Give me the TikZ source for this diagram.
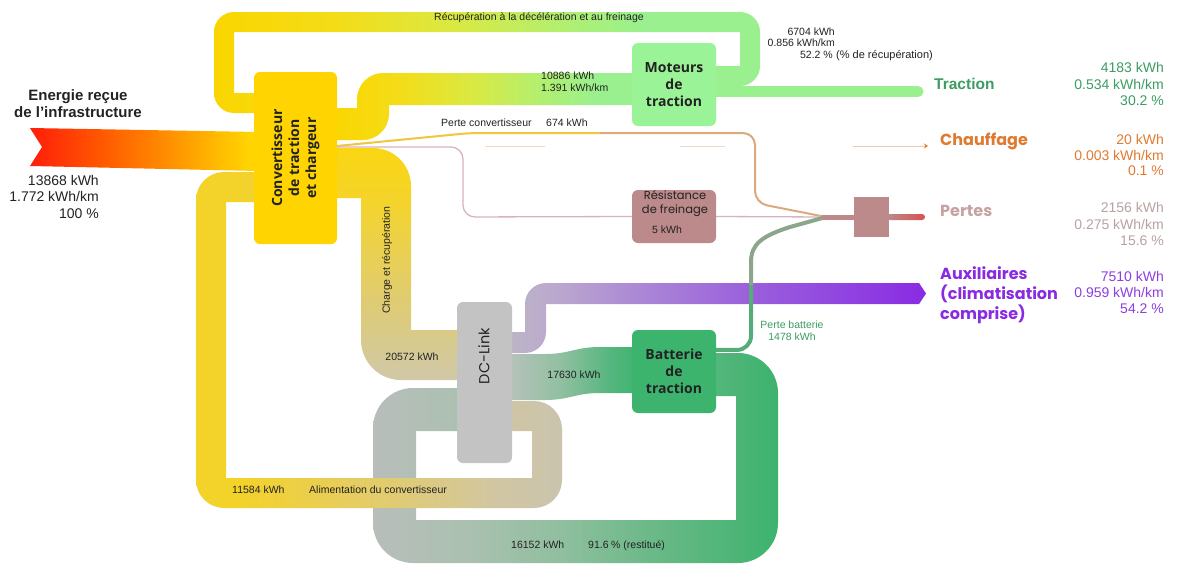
\documentclass[tikz,border=0pt]{standalone}
\usepackage{fontspec}
\setmainfont{Liberation Sans}
\newfontfamily\osans{Open Sans}
\newfontfamily\pop{Poppins}
\usetikzlibrary{arrows.meta}

% plain colours
\definecolor{convgold}{HTML}{FFD400}
\definecolor{motgreen}{HTML}{9AF396}
\definecolor{outgreen}{HTML}{9AF08E}
\definecolor{batgreen}{HTML}{3DB46E}
\definecolor{rose}{HTML}{BC8A8A}
\definecolor{dcgray}{HTML}{C3C3C3}
\definecolor{auxpurple}{HTML}{8A2BE2}
\definecolor{auxval}{HTML}{8E3EE0}
\definecolor{tracgreen}{HTML}{3C9C63}
\definecolor{chaufor}{HTML}{E07A30}
\definecolor{pertlbl}{HTML}{C7A2A2}
\definecolor{pertval}{HTML}{B9A2A2}
\definecolor{lossred}{HTML}{D65252}
\definecolor{txt}{HTML}{222222}
\definecolor{resline}{HTML}{D8B2C2}
\definecolor{convlossA}{HTML}{F0C63C}
\definecolor{convlossB}{HTML}{DCA97C}
\definecolor{batlossA}{HTML}{55AC78}
\definecolor{batlossB}{HTML}{8CA68C}
\definecolor{heatline}{HTML}{F3D8C6}

% gradient stops of the flows
\definecolor{in1}{HTML}{FF1E0A}
\definecolor{in2}{HTML}{FF5600}
\definecolor{in3}{HTML}{FF9200}
\definecolor{in4}{HTML}{FFBE00}
\definecolor{in5}{HTML}{FFD400}
\pgfdeclarehorizontalshading{inflow}{100bp}{color(0bp)=(in1); color(25bp)=(in1); color(40bp)=(in2); color(56bp)=(in3); color(67bp)=(in4); color(73bp)=(in5); color(100bp)=(in5)}

\definecolor{rc1}{HTML}{FAD600}
\definecolor{rc2}{HTML}{F4DC18}
\definecolor{rc3}{HTML}{DAE942}
\definecolor{rc4}{HTML}{B2EF70}
\definecolor{rc5}{HTML}{9AF08E}
\pgfdeclarehorizontalshading{recov}{100bp}{color(0bp)=(rc1); color(25bp)=(rc1); color(36bp)=(rc2); color(47bp)=(rc3); color(57bp)=(rc4); color(64bp)=(rc5); color(100bp)=(rc5)}
\pgfdeclarehorizontalshading{tracin}{100bp}{color(0bp)=(rc1); color(25bp)=(rc1); color(36bp)=(rc2); color(48bp)=(rc3); color(59bp)=(rc4); color(68bp)=(rc5); color(100bp)=(rc5)}

\definecolor{ch1}{HTML}{D0C8A8}
\definecolor{ch2}{HTML}{DFCC72}
\definecolor{ch3}{HTML}{EAD050}
\definecolor{ch4}{HTML}{F4D42A}
\definecolor{ch5}{HTML}{FAD612}
\pgfdeclareverticalshading{charge}{100bp}{color(0bp)=(ch1); color(25bp)=(ch1); color(42bp)=(ch2); color(53bp)=(ch3); color(64bp)=(ch4); color(75bp)=(ch5); color(100bp)=(ch5)}

\definecolor{al1}{HTML}{F3D22A}
\definecolor{al2}{HTML}{E9CE54}
\definecolor{al3}{HTML}{DCCA80}
\definecolor{al4}{HTML}{D1C6A2}
\definecolor{al5}{HTML}{CAC4AE}
\pgfdeclarehorizontalshading{alim}{100bp}{color(0bp)=(al1); color(31bp)=(al1); color(43bp)=(al2); color(56bp)=(al3); color(66bp)=(al4); color(75bp)=(al5); color(100bp)=(al5)}

\definecolor{rs1}{HTML}{B8BEBA}
\definecolor{rs2}{HTML}{AAC0B0}
\definecolor{rs3}{HTML}{90BF9F}
\definecolor{rs4}{HTML}{6CB988}
\definecolor{rs5}{HTML}{3DB36E}
\pgfdeclarehorizontalshading{rest}{100bp}{color(0bp)=(rs1); color(25bp)=(rs1); color(37bp)=(rs2); color(48bp)=(rs3); color(59bp)=(rs4); color(75bp)=(rs5); color(100bp)=(rs5)}

\definecolor{bi1}{HTML}{BAC2BC}
\definecolor{bi2}{HTML}{92C0A2}
\definecolor{bi3}{HTML}{55B67E}
\pgfdeclarehorizontalshading{batin}{100bp}{color(0bp)=(bi1); color(25bp)=(bi1); color(45bp)=(bi2); color(64bp)=(bi3); color(75bp)=(rs5); color(100bp)=(rs5)}

\definecolor{ax1}{HTML}{BDB6C6}
\definecolor{ax2}{HTML}{BBA8CE}
\definecolor{ax3}{HTML}{AA84D6}
\definecolor{ax4}{HTML}{9A60DC}
\definecolor{ax5}{HTML}{9042E0}
\pgfdeclarehorizontalshading{auxflow}{100bp}{color(0bp)=(ax1); color(25bp)=(ax1); color(31bp)=(ax2); color(42bp)=(ax3); color(54bp)=(ax4); color(66bp)=(ax5); color(75bp)=(auxpurple); color(100bp)=(auxpurple)}

\begin{document}
\begin{tikzpicture}[x=1pt,y=-1pt,
  box/.style={rounded corners=6pt, inner sep=0pt, align=center,
    font=\osans\bfseries\fontsize{14}{17}\selectfont, text=txt},
  small/.style={inner sep=0pt, font=\fontsize{10.5}{12}\selectfont, text=txt},
  val/.style={inner sep=0pt, font=\fontsize{14}{16}\selectfont, anchor=mid east},
  outlbl/.style={inner sep=0pt, anchor=mid west,
    font=\pop\bfseries\fontsize{16}{20}\selectfont},
]
\useasboundingbox (0,0) rectangle (1177,565);
\fill[white] (0,0) rectangle (1177,565);

% ---------------- flows ----------------
% battery return loop (16152 kWh)
\shade[shading=rest] (712,353) -- (738,353) .. controls (760,353) and (778,371) .. (778,393)
  -- (778,523) .. controls (778,545) and (760,563) .. (738,563)
  -- (413,563) .. controls (391,563) and (373,545) .. (373,523)
  -- (373,428) .. controls (373,406) and (391,388) .. (413,388)
  -- (460,388) -- (460,431) -- (416,431) -- (416,520) -- (736,520) -- (736,396) -- (712,396) -- cycle;

% supply of the converter (11584 kWh)
\shade[shading=alim] (490,401) -- (534,401) .. controls (549.4,401) and (562,413.6) .. (562,429)
  -- (562,480) .. controls (562,495.4) and (549.4,508) .. (534,508)
  -- (224,508) .. controls (208.6,508) and (196,495.4) .. (196,480)
  -- (196,200) .. controls (196,184.6) and (208.6,172) .. (224,172)
  -- (258,172) -- (258,202) -- (226,202) -- (226,478) -- (532,478) -- (532,431) -- (490,431) -- cycle;

% charge and recovery (20572 kWh)
\shade[shading=charge] (330,148) -- (373,148) .. controls (393.9,148) and (411,165.1) .. (411,186)
  -- (411,330) -- (460,330) -- (460,380)
  -- (401,380) .. controls (379,380) and (361,362) .. (361,340)
  -- (361,198) -- (330,198) -- cycle;

% DC-link to battery (17630 kWh)
\shade[shading=batin] (505,354) -- (545,354) .. controls (570,354) and (575,347) .. (600,347)
  -- (640,347) -- (640,393) -- (600,393) .. controls (575,393) and (570,400) .. (545,400)
  -- (505,400) -- cycle;

% auxiliaries (7510 kWh)
\shade[shading=auxflow] (505,332) -- (525,332) -- (525,304) .. controls (525,292.4) and (534.4,283) .. (546,283)
  -- (919,283) -- (926,293.5) -- (919,304) -- (546,304)
  -- (546,332) .. controls (546,343.6) and (536.6,353) .. (525,353)
  -- (505,353) -- cycle;

% recovery loop (6704 kWh)
\shade[shading=recov] (712,86) -- (740,86) .. controls (751,86) and (760,77) .. (760,66)
  -- (760,32) .. controls (760,21) and (751,12) .. (740,12)
  -- (234,12) .. controls (223,12) and (214,21) .. (214,32)
  -- (214,93) .. controls (214,104) and (223,113) .. (234,113)
  -- (258,113) -- (258,93) -- (234,93) -- (234,32) -- (740,32) -- (740,66) -- (712,66) -- cycle;

% converter to motors (10886 kWh)
\shade[shading=tracin] (330,108) -- (357,108) -- (357,99) .. controls (357,84.7) and (368.7,73) .. (383,73)
  -- (640,73) -- (640,105) -- (389,105)
  -- (389,114) .. controls (389,128.3) and (377.3,140) .. (363,140)
  -- (330,140) -- cycle;

% traction output
\coordinate (trEnd) at (918,91.5);
\draw[line width=11pt, outgreen, line cap=round] (712,91.5) -- (trEnd);

% energy from the infrastructure
\shade[shading=inflow] (30,128) -- (258,132) -- (258,171) -- (30,166) -- (42,147) -- cycle;

% ---------------- blocks ----------------
\node[box, fill=convgold, minimum width=172pt, minimum height=83pt, rotate=90] (conv) at (295.5,158)
  {Convertisseur\\de traction\\et chargeur};
\node[box, fill=motgreen, minimum width=84pt, minimum height=83pt] (mot) at (674,84.5) {Moteurs\\de\\traction};
\node[box, fill=rose, minimum width=84pt, minimum height=53pt] (res) at (674,216.5) {};
\node[box, fill=batgreen, minimum width=84pt, minimum height=83pt] (bat) at (674,371.5) {Batterie\\de\\traction};
\node[box, fill=dcgray, minimum width=55pt, minimum height=161pt] (dcl) at (484.5,382.5) {};
\node[fill=rose, minimum width=35pt, minimum height=40pt, inner sep=0pt] (pbox) at (871.5,217) {};

% ---------------- loss lines ----------------
\coordinate (jn) at (826,217);
\coordinate (convR1) at (337,146);
\coordinate (convR2) at (337,147);
\draw[line width=2pt, convlossA, rounded corners=10pt] (convR1) -- (470,133) -- (600,133);
\draw[line width=2pt, convlossB, rounded corners=12pt] (600,133) -- (755,133) -- (755,203) -- (jn);
\draw[line width=1.3pt, resline, rounded corners=12pt] (convR2) -- (463,147) -- (463,217) -- (res.west);
\draw[line width=1.3pt, resline] (res.east) -- (jn);
\draw[line width=4pt, batlossA, rounded corners=14pt] ([yshift=-20pt]bat.north east) -- (751,350) -- (751,285);
\draw[line width=4pt, batlossB] (751,285) -- (751,262) .. controls (751,244) and (762,236) .. (790,227) -- (jn);
\draw[line width=5pt, rose] (822,217) -- (pbox.west);
\shade[left color=rose, right color=lossred, rounded corners=3pt] (887,214) rectangle (925,220);

% heating (very small flow)
\draw[heatline, line width=1pt] (485,146) -- (545,146);
\draw[heatline, line width=1pt] (680,146) -- (725,146);
\draw[heatline!85!chaufor, line width=1pt, -{Stealth[length=4pt,width=5pt,color=chaufor]}] (853,146) -- (928,146);

% ---------------- texts ----------------
\node[inner sep=0pt, align=center, font=\bfseries\fontsize{15}{17}\selectfont, text=txt] (srclbl) at (78,104)
  {Energie reçue\\de l'infrastructure};
\node[val, text=txt] (sv1) at (99,183) {13868 kWh};
\node[val, text=txt] (sv2) at (99,199) {1.772 kWh/km};
\node[val, text=txt] (sv3) at (99,216) {100 \%};

\node[inner sep=0pt, anchor=mid west, font=\bfseries\fontsize{15.5}{18}\selectfont, text=tracgreen] (trl) at (934,87) {Traction};
\node[val, text=tracgreen] (tv1) at (1164,70) {4183 kWh};
\node[val, text=tracgreen] (tv2) at (1164,87) {0.534 kWh/km};
\node[val, text=tracgreen] (tv3) at (1164,103) {30.2 \%};

\node[outlbl, text=chaufor] (chl) at (940,143) {Chauffage};
\node[val, text=chaufor] (cv1) at (1164,142) {20 kWh};
\node[val, text=chaufor] (cv2) at (1164,158) {0.003 kWh/km};
\node[val, text=chaufor] (cv3) at (1164,173) {0.1 \%};

\node[outlbl, text=pertlbl] (pel) at (940,214) {Pertes};
\node[val, text=pertval] (pv1) at (1164,210) {2156 kWh};
\node[val, text=pertval] (pv2) at (1164,227) {0.275 kWh/km};
\node[val, text=pertval] (pv3) at (1164,243) {15.6 \%};

\node[outlbl, anchor=west, align=left, text=auxpurple] (axl) at (940,295) {Auxiliaires\\(climatisation\\comprise)};
\node[val, text=auxval] (av1) at (1164,279) {7510 kWh};
\node[val, text=auxval] (av2) at (1164,295) {0.959 kWh/km};
\node[val, text=auxval] (av3) at (1164,311) {54.2 \%};

\node[small] (recl) at (539,18) {Récupération à la décélération et au freinage};
\node[small, anchor=mid west] (mv1) at (541,77) {10886 kWh};
\node[small, anchor=mid west] (mv2) at (541,89) {1.391 kWh/km};
\node[small, anchor=mid east] (rv1) at (835,33) {6704 kWh};
\node[small, anchor=mid east] (rv2) at (835,44) {0.856 kWh/km};
\node[small, anchor=mid east] (rv3) at (833,56) {52.2 \%};
\node[small, anchor=mid west, font=\fontsize{11}{13}\selectfont] (rv4) at (836,56) {(\% de récupération)};
\node[small, anchor=mid west] (pcl) at (441,124) {Perte convertisseur};
\node[small, anchor=mid west] (pcv) at (546,124) {674 kWh};
\node[small, rotate=90] (chgl) at (387,260) {Charge et récupération};
\node[small] (chgv) at (412,357) {20572 kWh};
\node[small] (dbv) at (574,375) {17630 kWh};
\node[small, anchor=mid west] (alv) at (232,491) {11584 kWh};
\node[small, anchor=mid west] (all) at (309,491) {Alimentation du convertisseur};
\node[small, anchor=mid west] (bv1) at (511,546) {16152 kWh};
\node[small, anchor=mid west] (bv2) at (588,546) {91.6};
\node[small, anchor=mid west] (bv3) at (611,546) {\% (restitué)};
\node[small, align=center, text=tracgreen] (pbl) at (792,331) {Perte batterie\\1478 kWh};
\node[small] (resv) at (667,230) {5 kWh};
\node[inner sep=0pt, align=center, font=\pop\fontsize{11.5}{14}\selectfont, text=txt] (resl) at (675,204) {Résistance\\de freinage};
\node[inner sep=0pt, rotate=90, font=\pop\fontsize{14.5}{16}\selectfont, text=txt] (dcll) at (484,356) {DC-Link};
\end{tikzpicture}
\end{document}
